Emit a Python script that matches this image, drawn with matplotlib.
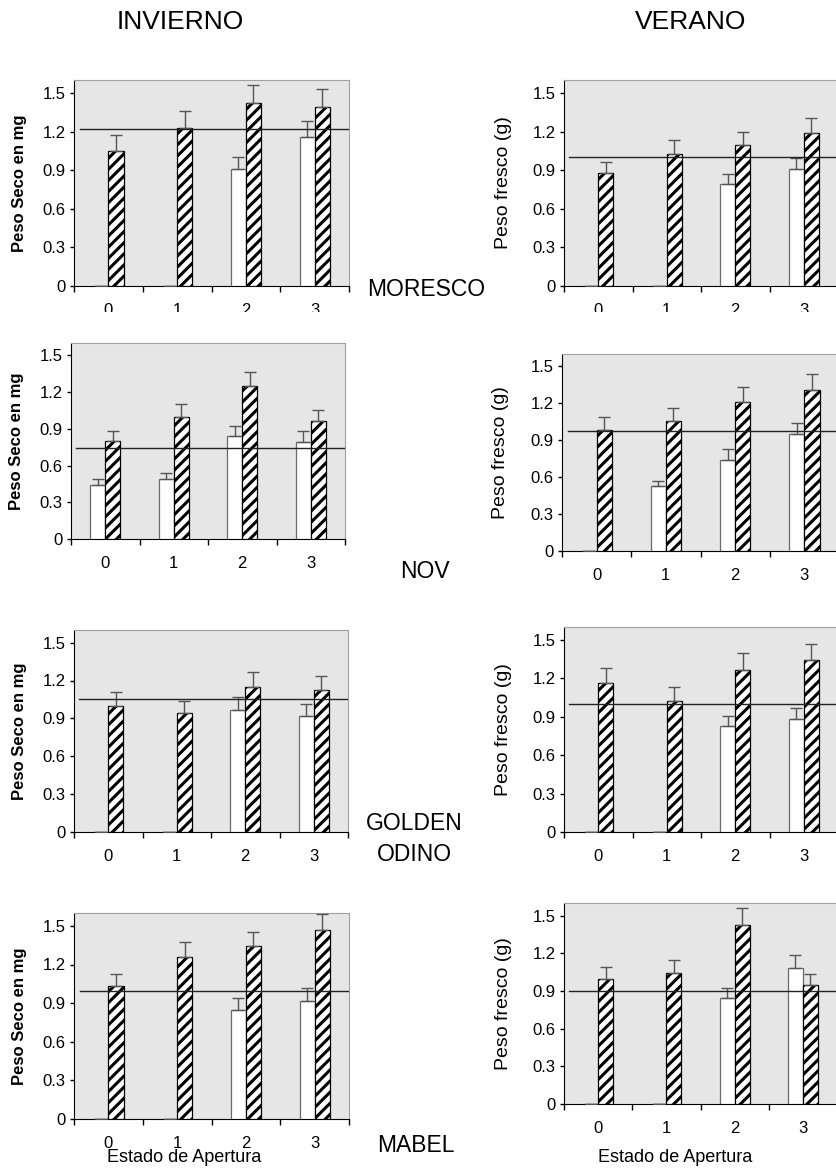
import numpy as np
import matplotlib
matplotlib.use("Agg")
import matplotlib.pyplot as plt
from matplotlib.transforms import Bbox, TransformedBbox

plt.rcParams['font.family'] = ['Liberation Sans', 'DejaVu Sans']
plt.rcParams['hatch.linewidth'] = 2.2

estados = [0, 1, 2, 3]
yticks = [0, 0.3, 0.6, 0.9, 1.2, 1.5]
ytick_labels = ["0", "0.3", "0.6", "0.9", "1.2", "1.5"]
variedades = ["MORESCO", "NOV", "GOLDEN\nODINO", "MABEL"]

# INVIERNO (peso seco, mg): barras blancas, barras rayadas y sus errores
inv_blanco = [[0, 0, 0.91, 1.16], [0.44, 0.49, 0.84, 0.79],
              [0, 0, 0.97, 0.92], [0, 0, 0.85, 0.92]]
inv_blanco_err = [[0, 0, 0.09, 0.12], [0.05, 0.045, 0.085, 0.09],
                  [0, 0, 0.10, 0.095], [0, 0, 0.09, 0.095]]
inv_rayado = [[1.05, 1.23, 1.42, 1.39], [0.80, 1.00, 1.25, 0.96],
              [1.00, 0.945, 1.15, 1.125], [1.03, 1.255, 1.34, 1.465]]
inv_rayado_err = [[0.12, 0.13, 0.14, 0.14], [0.08, 0.105, 0.115, 0.09],
                  [0.108, 0.093, 0.12, 0.11], [0.096, 0.12, 0.115, 0.127]]
inv_ref = [1.22, 0.74, 1.05, 0.995]

# VERANO (peso fresco, g)
ver_blanco = [[0, 0, 0.79, 0.91], [0, 0.525, 0.74, 0.95],
              [0, 0, 0.825, 0.885], [0, 0, 0.843, 1.08]]
ver_blanco_err = [[0, 0, 0.083, 0.088], [0, 0.043, 0.086, 0.09],
                  [0, 0, 0.083, 0.083], [0, 0, 0.077, 0.103]]
ver_rayado = [[0.875, 1.025, 1.095, 1.185], [0.985, 1.057, 1.212, 1.305],
              [1.162, 1.024, 1.266, 1.34], [0.997, 1.042, 1.423, 0.946]]
ver_rayado_err = [[0.087, 0.107, 0.104, 0.117], [0.10, 0.107, 0.116, 0.134],
                  [0.117, 0.104, 0.13, 0.127], [0.09, 0.103, 0.135, 0.09]]
ver_ref = [1.0, 0.975, 1.0, 0.9]

W, H = 836, 1169
fig = plt.figure(figsize=(W / 100, H / 100), dpi=100)


def caja(x0, y0, x1, y1):
    # pixeles -> fraccion de figura
    return [x0 / W, 1 - y1 / H, (x1 - x0) / W, (y1 - y0) / H]


cajas_izq = [(74, 80, 349, 286), (71, 343, 345, 539),
             (74, 630, 348, 832), (74, 913, 349, 1119)]
cajas_der = [(564, 80, 838, 286), (562, 354, 839, 551),
             (564, 627, 838, 832), (564, 903, 837, 1104)]

ancho = 0.22


def panel(ax, blanco, blanco_err, rayado, rayado_err, ref, ylabel, bold, xlabx):
    x = np.array(estados)
    ax.set_facecolor('#e6e6e6')
    ax.bar(x - ancho / 2, blanco, ancho, color='white', edgecolor='#6a6a6a',
           linewidth=0.9, zorder=3)
    ax.bar(x + ancho / 2, rayado, ancho, color='white', edgecolor='black',
           hatch='///', linewidth=0.9, zorder=3)
    ax.errorbar(x - ancho / 2, blanco, yerr=[np.zeros(4), blanco_err], fmt='none',
                ecolor='#555555', elinewidth=1, capsize=4, capthick=1, zorder=4)
    ax.errorbar(x + ancho / 2, rayado, yerr=[np.zeros(4), rayado_err], fmt='none',
                ecolor='#555555', elinewidth=1, capsize=4, capthick=1, zorder=4)
    ax.axhline(ref, xmin=0.02, color='#222222', linewidth=1, zorder=5)
    ax.set_xlim(-0.5, 3.5)
    ax.set_ylim(0, 1.6)
    ax.set_yticks(yticks)
    ax.set_yticklabels(ytick_labels)
    ax.set_xticks([-0.5, 0.5, 1.5, 2.5, 3.5])
    ax.set_xticklabels([])
    ax.set_xticks(estados, minor=True)
    ax.set_xticklabels([str(e) for e in estados], minor=True)
    ax.tick_params(axis='x', which='major', direction='out', length=4, width=1)
    ax.tick_params(axis='x', which='minor', length=0, pad=12, labelsize=12)
    ax.tick_params(axis='y', direction='out', length=3, width=1, labelsize=12, pad=3)
    for s in ['top', 'right']:
        ax.spines[s].set_color('#a0a0a0')
    for s in ['left', 'bottom']:
        ax.spines[s].set_color('black')
    ax.set_ylabel(ylabel, fontsize=12 if bold else 14,
                  fontweight='bold' if bold else 'normal')
    ax.yaxis.set_label_coords(xlabx, 0.5)


for i in range(4):
    ax_i = fig.add_axes(caja(*cajas_izq[i]))
    panel(ax_i, inv_blanco[i], inv_blanco_err[i], inv_rayado[i], inv_rayado_err[i],
          inv_ref[i], "Peso Seco en mg", True, -0.171)
    ax_d = fig.add_axes(caja(*cajas_der[i]))
    panel(ax_d, ver_blanco[i], ver_blanco_err[i], ver_rayado[i], ver_rayado_err[i],
          ver_ref[i], "Peso fresco (g)", False, -0.19)
    if i == 0:
        # en el original la primera fila de etiquetas queda cortada
        corte = TransformedBbox(Bbox([[0, 1 - 312 / H], [1, 1]]), fig.transFigure)
        for a in (ax_i, ax_d):
            for t in a.get_xticklabels(minor=True):
                t.set_clip_on(True)
                t.set_clip_box(corte)

fig.text(180 / W, 1 - 22 / H, "INVIERNO", fontsize=19, ha='center', va='center')
fig.text(691 / W, 1 - 22 / H, "VERANO", fontsize=19, ha='center', va='center')

pos_var = [(367, 289, 'left'), (400, 571, 'left'), (414, 839, 'center'), (377, 1145, 'left')]
for nombre, (px, py, ha) in zip(variedades, pos_var):
    fig.text(px / W, 1 - py / H, nombre, fontsize=16.5, ha=ha, va='center',
             multialignment='center', linespacing=1.4)

fig.text(184.5 / W, 1 - 1157 / H, "Estado de Apertura", fontsize=13, ha='center', va='center')
fig.text(675 / W, 1 - 1158 / H, "Estado de Apertura", fontsize=13, ha='center', va='center')

fig.savefig("out.png", dpi=100)
